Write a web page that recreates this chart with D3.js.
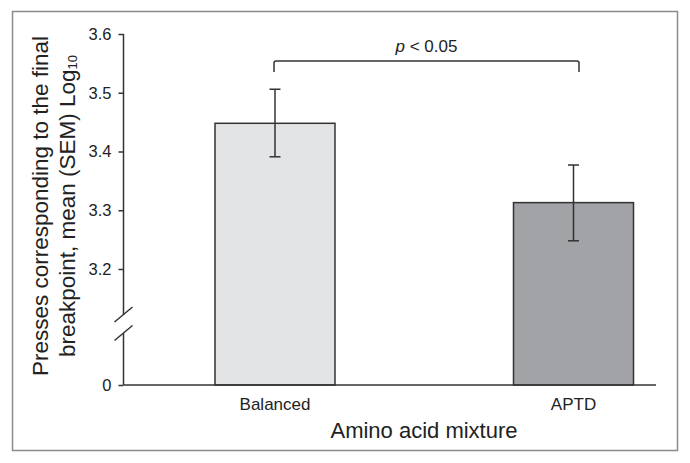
<!DOCTYPE html>
<html>
<head>
<meta charset="utf-8">
<script src="https://cdnjs.cloudflare.com/ajax/libs/d3/7.8.5/d3.min.js"></script>
<style>
  body { margin: 0; background: #fff; }
  text { font-family: "Liberation Sans", Arial, Helvetica, sans-serif; fill: #222; }
</style>
</head>
<body>
<svg id="chart"></svg>
<script>
// data
var categories = ["Balanced", "APTD"],
    means = [3.448, 3.313],
    semLow = [3.391, 3.248],
    semHigh = [3.506, 3.377],
    yTicks = [0, 3.2, 3.3, 3.4, 3.5, 3.6],
    barColors = ["#e3e4e6", "#a2a3a6"];

var width = 690, height = 463,
    axisX = 123.5,
    axisRight = 656,
    baseY = 385;

var svg = d3.select("#chart").attr("width", width).attr("height", height);

// outer frame
svg.append("rect")
    .attr("x", 12.5).attr("y", 11.5)
    .attr("width", 665).attr("height", 439)
    .attr("fill", "none")
    .attr("stroke", "#8a8a8a")
    .attr("stroke-width", 1.5);

// broken y scale: 0 .. 3.2 squeezed under the break
var y = d3.scaleLinear()
    .domain([0, 3.2, 3.6])
    .range([baseY, 269, 34]);

var x = d3.scaleBand()
    .domain(categories)
    .range([215, 633.5])
    .paddingInner(0.598)
    .paddingOuter(0);

// bars
svg.selectAll(".bar")
    .data(categories)
    .enter()
    .append("rect")
    .attr("class", "bar")
    .attr("x", function(d) { return x(d); })
    .attr("y", function(d, i) { return y(means[i]); })
    .attr("width", x.bandwidth())
    .attr("height", function(d, i) { return baseY - y(means[i]); })
    .attr("fill", function(d, i) { return barColors[i]; })
    .attr("stroke", "#333")
    .attr("stroke-width", 1.5);

// error bars
var err = svg.selectAll(".err")
    .data(categories)
    .enter()
    .append("g")
    .attr("class", "err")
    .attr("stroke", "#333")
    .attr("stroke-width", 1.5);

err.append("line")
    .attr("x1", function(d) { return x(d) + x.bandwidth() / 2; })
    .attr("x2", function(d) { return x(d) + x.bandwidth() / 2; })
    .attr("y1", function(d, i) { return y(semLow[i]); })
    .attr("y2", function(d, i) { return y(semHigh[i]); });

[semLow, semHigh].forEach(function(arr) {
    err.append("line")
        .attr("x1", function(d) { return x(d) + x.bandwidth() / 2 - 5.5; })
        .attr("x2", function(d) { return x(d) + x.bandwidth() / 2 + 5.5; })
        .attr("y1", function(d, i) { return y(arr[i]); })
        .attr("y2", function(d, i) { return y(arr[i]); });
});

// y axis
var yAxis = d3.axisLeft(y)
    .tickValues(yTicks)
    .tickSize(5)
    .tickPadding(7)
    .tickFormat(function(d) { return d === 0 ? "0" : d3.format(".1f")(d); });

var gy = svg.append("g")
    .attr("transform", "translate(" + axisX + ",0)")
    .call(yAxis);
gy.select(".domain").remove();
gy.selectAll(".tick line").attr("stroke", "#333").attr("stroke-width", 1.5);
gy.selectAll(".tick text")
    .style("font-size", "16.5px")
    .attr("fill", "#222");

// axis line with a gap for the break
var breakTop = 314.5, breakBottom = 333;
svg.append("path")
    .attr("d", "M" + axisX + "," + y(3.6) + "V" + breakTop +
               "M" + axisX + "," + breakBottom + "V" + baseY)
    .attr("stroke", "#333")
    .attr("stroke-width", 1.5)
    .attr("fill", "none");

[breakTop, breakBottom].forEach(function(cy) {
    svg.append("line")
        .attr("x1", axisX - 9).attr("y1", cy + 7.5)
        .attr("x2", axisX + 9).attr("y2", cy - 7.5)
        .attr("stroke", "#333")
        .attr("stroke-width", 1.5);
});

// x axis
svg.append("line")
    .attr("x1", axisX).attr("x2", axisRight)
    .attr("y1", baseY).attr("y2", baseY)
    .attr("stroke", "#333")
    .attr("stroke-width", 1.5);

var gx = svg.append("g")
    .attr("transform", "translate(0," + baseY + ")")
    .call(d3.axisBottom(x).tickSize(0).tickPadding(13));
gx.select(".domain").remove();
gx.selectAll(".tick text")
    .style("font-size", "17px")
    .attr("fill", "#222");

// significance bracket
var bx1 = x(categories[0]) + x.bandwidth() / 2 - 1,
    bx2 = x(categories[1]) + x.bandwidth() / 2 + 5.5,
    by = 61;
svg.append("path")
    .attr("d", "M" + bx1 + "," + (by + 11) + "V" + (by + 2) + "Q" + bx1 + "," + by + " " + (bx1 + 2) + "," + by +
               "H" + (bx2 - 2) + "Q" + bx2 + "," + by + " " + bx2 + "," + (by + 2) + "V" + (by + 11))
    .attr("fill", "none")
    .attr("stroke", "#333")
    .attr("stroke-width", 1.5);

var pt = svg.append("text")
    .attr("x", (bx1 + bx2) / 2)
    .attr("y", 52)
    .attr("text-anchor", "middle")
    .style("font-size", "17px");
pt.append("tspan").attr("font-style", "italic").text("p");
pt.append("tspan").text(" < 0.05");

// axis titles
svg.append("text")
    .attr("x", 424)
    .attr("y", 438)
    .attr("text-anchor", "middle")
    .style("font-size", "22px")
    .text("Amino acid mixture");

var yt = svg.append("text")
    .attr("transform", "translate(48,206) rotate(-90)")
    .attr("text-anchor", "middle")
    .style("font-size", "22.5px");
yt.append("tspan").attr("x", 0).attr("y", 0).text("Presses corresponding to the final");
var l2 = yt.append("tspan").attr("x", 0).attr("y", 27);
l2.append("tspan").text("breakpoint, mean (SEM) Log");
l2.append("tspan").attr("dy", 2).style("font-size", "13px").text("10");
</script>
</body>
</html>
